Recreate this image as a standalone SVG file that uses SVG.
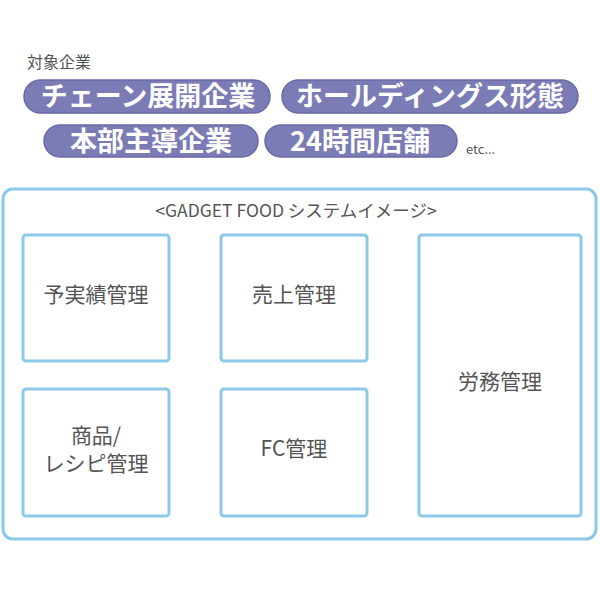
<svg xmlns="http://www.w3.org/2000/svg" width="600" height="600" viewBox="0 0 600 600">
<style>
.t{font-family:"Noto Sans CJK JP","Noto Sans",sans-serif;fill:#555;}
.pill{fill:#7b7bb6;stroke:#6a6aa6;stroke-width:1.5;}
.pt{font-family:"Noto Sans CJK JP","Noto Sans",sans-serif;fill:#fff;font-weight:bold;font-size:27px;text-anchor:middle;}
.box{fill:#fff;stroke:#8cc9e6;stroke-width:3;}
.bt{font-family:"Noto Sans CJK JP","Noto Sans",sans-serif;fill:#555;font-size:21px;text-anchor:middle;}
</style>
<rect width="600" height="600" fill="#fff"/>
<text class="t" x="27" y="68" font-size="16">対象企業</text>
<g id="pill1"><rect class="pill" x="24" y="80" width="246" height="33" rx="16.5"/><text class="pt" x="148" y="106">チェーン展開企業</text></g>
<g id="pill2"><rect class="pill" x="282" y="80" width="296" height="33" rx="16.5"/><text class="pt" x="430" y="106">ホールディングス形態</text></g>
<g id="pill3"><rect class="pill" x="44" y="125" width="214" height="32" rx="16"/><text class="pt" x="151" y="151">本部主導企業</text></g>
<g id="pill4"><rect class="pill" x="265" y="125" width="192" height="32" rx="16"/><text class="pt" x="360" y="151">24時間店舗</text></g>
<text class="t" x="466" y="154" font-size="13">etc...</text>
<g id="container"><rect x="3" y="189" width="593" height="350" rx="10" fill="#fff" stroke="#8cc9e6" stroke-width="3"/>
<text class="t" x="296" y="217" font-size="17.5" text-anchor="middle">&lt;GADGET FOOD システムイメージ&gt;</text></g>
<g id="n1"><rect class="box" x="23" y="235" width="146" height="126" rx="3"/><text class="bt" x="96" y="302">予実績管理</text></g>
<g id="n2"><rect class="box" x="221" y="235" width="146" height="126" rx="3"/><text class="bt" x="294" y="302">売上管理</text></g>
<g id="n3"><rect class="box" x="419" y="235" width="162" height="281" rx="3"/><text class="bt" x="500" y="389">労務管理</text></g>
<g id="n4"><rect class="box" x="23" y="389" width="146" height="127" rx="3"/><text class="bt" x="96" y="443">商品/</text><text class="bt" x="96" y="471">レシピ管理</text></g>
<g id="n5"><rect class="box" x="221" y="389" width="146" height="127" rx="3"/><text class="bt" x="294" y="456">FC管理</text></g>
<g id="connectors"></g>
</svg>
